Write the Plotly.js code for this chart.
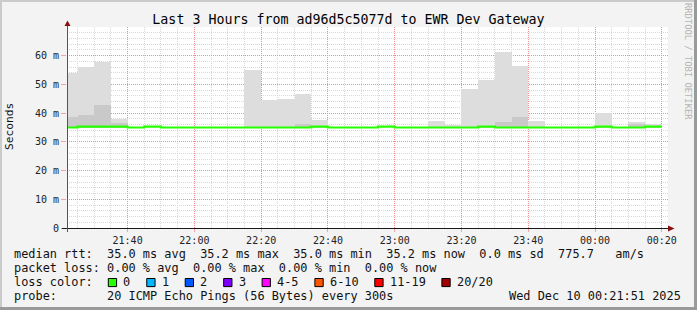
<!DOCTYPE html>
<html>
<head>
<meta charset="utf-8">
<script src="https://cdn.plot.ly/plotly-3.0.1.min.js"></script>
<style>
html,body{margin:0;padding:0;background:#f3f3f3;}
#chart{width:697px;height:310px;}
</style>
</head>
<body>
<div id="chart"></div>
<script>
// ---- data (5-minute bins, values in milliseconds) ----
const binStart = [
'2025-12-09 21:20','2025-12-09 21:25','2025-12-09 21:30','2025-12-09 21:35',
'2025-12-09 21:40','2025-12-09 21:45','2025-12-09 21:50','2025-12-09 21:55',
'2025-12-09 22:00','2025-12-09 22:05','2025-12-09 22:10','2025-12-09 22:15',
'2025-12-09 22:20','2025-12-09 22:25','2025-12-09 22:30','2025-12-09 22:35',
'2025-12-09 22:40','2025-12-09 22:45','2025-12-09 22:50','2025-12-09 22:55',
'2025-12-09 23:00','2025-12-09 23:05','2025-12-09 23:10','2025-12-09 23:15',
'2025-12-09 23:20','2025-12-09 23:25','2025-12-09 23:30','2025-12-09 23:35',
'2025-12-09 23:40','2025-12-09 23:45','2025-12-09 23:50','2025-12-09 23:55',
'2025-12-10 00:00','2025-12-10 00:05','2025-12-10 00:10','2025-12-10 00:15'];
const seriesEnd = '2025-12-10 00:20';

const medianMs = [
 35.0,35.3,35.3,35.3,
 35.0,35.3,35.0,35.0,
 35.0,35.0,35.0,35.0,
 35.0,35.0,35.0,35.3,
 35.0,35.0,35.0,35.3,
 35.0,35.0,35.0,35.0,
 35.0,35.3,35.0,35.0,
 35.0,35.0,35.0,35.0,
 35.3,35.0,35.0,35.3];

const smokeMaxMs = [
 54.0,56.1,57.9,37.9,
 null,null,null,null,
 null,null,null,55.1,
 44.6,45.0,46.8,37.5,
 null,null,null,null,
 null,null,37.3,35.7,
 48.4,51.7,61.4,56.5,
 37.3,null,null,null,
 39.9,null,36.8,36.1];

const smokeMidMs = [
 38.5,39.4,43.0,36.5,
 null,null,null,null,
 null,null,null,null,
 null,null,36.1,null,
 null,null,null,null,
 null,null,null,null,
 null,null,36.8,38.7,
 null,null,null,null,
 null,null,36.3,null];

const smokeFloorMs = 34.9;

const yTickVals = [0,10,20,30,40,50,60];
const yTickText = ['0','10 m','20 m','30 m','40 m','50 m','60 m'];

const lossLabels = ['0','1','2','3','4-5','6-10','11-19','20/20'];
const lossColors = ['#26ff00','#00b8ff','#0059ff','#7e00ff','#ff00ff','#ff5500','#ff0000','#a10000'];

const titleText = 'Last 3 Hours from ad96d5c5077d to EWR Dev Gateway';
const legendLines = [
 'median rtt:  35.0 ms avg  35.2 ms max  35.0 ms min  35.2 ms now  0.0 ms sd  775.7   am/s',
 'packet loss: 0.00 % avg  0.00 % max  0.00 % min  0.00 % now',
 'loss color:',
 'probe:       20 ICMP Echo Pings (56 Bytes) every 300s'
];
const stampText = 'Wed Dec 10 00:21:51 2025';

// ---- layout helpers ----
const W = 697, H = 310;
const M = {l:67, r:29, t:27, b:82};
const PW = W - M.l - M.r, PH = H - M.t - M.b;
const px = x => (x - M.l) / PW;
const py = y => (M.t + PH - y) / PH;
const MONO = 'DejaVu Sans Mono, monospace';
const nb = s => s.replace(/ /g, '\u00a0');

const light = {
  type:'bar', x: binStart, xperiod: 300000, xperiodalignment:'middle', width: 300000,
  base: smokeMaxMs.map(v => v === null ? null : smokeFloorMs),
  y: smokeMaxMs.map(v => v === null ? null : v - smokeFloorMs),
  marker:{color:'#dddddd', line:{width:0}}, hoverinfo:'skip', showlegend:false
};
const dark = {
  type:'bar', x: binStart, xperiod: 300000, xperiodalignment:'middle', width: 300000,
  base: smokeMidMs.map(v => v === null ? null : smokeFloorMs),
  y: smokeMidMs.map(v => v === null ? null : v - smokeFloorMs),
  marker:{color:'#c9c9c9', line:{width:0}}, hoverinfo:'skip', showlegend:false
};
const median = {
  type:'scatter', mode:'lines',
  x: binStart.concat([seriesEnd]),
  y: medianMs.concat([medianMs[medianMs.length-1]]),
  line:{color:lossColors[0], width:2.2, shape:'hv'},
  hoverinfo:'skip', showlegend:false
};

const shapes = [];
const annotations = [];

// frame
shapes.push({type:'line', xref:'paper', yref:'paper', x0:px(0), x1:px(W), y0:py(1), y1:py(1), line:{color:'#cbcbcb', width:2}});
shapes.push({type:'line', xref:'paper', yref:'paper', x0:px(1), x1:px(1), y0:py(0), y1:py(H), line:{color:'#cbcbcb', width:2}});
shapes.push({type:'line', xref:'paper', yref:'paper', x0:px(0), x1:px(W), y0:py(H-1.5), y1:py(H-1.5), line:{color:'#9a9a9a', width:3}});
shapes.push({type:'line', xref:'paper', yref:'paper', x0:px(W-1.5), x1:px(W-1.5), y0:py(0), y1:py(H), line:{color:'#9a9a9a', width:3}});

// axes with arrows
const axY = M.t + PH, axX = M.l;
shapes.push({type:'line', xref:'paper', yref:'paper', x0:px(62), x1:px(669), y0:py(axY+0.5), y1:py(axY+0.5), line:{color:'#1a1a1a', width:1}});
shapes.push({type:'line', xref:'paper', yref:'paper', x0:px(axX+0.5), x1:px(axX+0.5), y0:py(232), y1:py(25), line:{color:'#555555', width:1}});
shapes.push({type:'path', xref:'paper', yref:'paper',
  path:`M ${px(668)} ${py(axY-2.5)} L ${px(674.5)} ${py(axY+0.5)} L ${px(668)} ${py(axY+3.5)} Z`,
  fillcolor:'#8b1010', line:{width:0}});
shapes.push({type:'path', xref:'paper', yref:'paper',
  path:`M ${px(axX-2.5)} ${py(26)} L ${px(axX+0.5)} ${py(20.5)} L ${px(axX+3.5)} ${py(26)} Z`,
  fillcolor:'#8b1010', line:{width:0}});

// legend text lines
const lineY = [254.3, 268.3, 282.3, 295.8];
const textX0 = 14.3, charW = 7.154;
legendLines.forEach((t,i) => {
  annotations.push({xref:'paper', yref:'paper', x:px(textX0), y:py(lineY[i]), xanchor:'left', yanchor:'middle',
    text:nb(t), showarrow:false, borderpad:0, borderwidth:0,
    font:{family:MONO, size:11.9, color:'#111'}});
});
annotations.push({xref:'paper', yref:'paper', x:px(680.5), y:py(lineY[3]), xanchor:'right', yanchor:'middle',
  text:nb(stampText), showarrow:false, borderpad:0, borderwidth:0,
  font:{family:MONO, size:11.9, color:'#111'}});

// loss colour boxes
let cx = textX0 + 13*charW;
lossLabels.forEach((lab,i) => {
  const bx = cx + 1;
  shapes.push({type:'rect', xref:'paper', yref:'paper', x0:px(bx), x1:px(bx+8.3), y0:py(278.5), y1:py(286.6),
    fillcolor:lossColors[i], line:{color:'#000', width:1}});
  annotations.push({xref:'paper', yref:'paper', x:px(cx+16), y:py(lineY[2]), xanchor:'left', yanchor:'middle',
    text:nb(lab), showarrow:false, borderpad:0, borderwidth:0,
    font:{family:MONO, size:11.9, color:'#111'}});
  cx = cx + 16 + lab.length*charW + 15.3;
});

// y axis title
annotations.push({xref:'paper', yref:'paper', x:px(10), y:py(127), xanchor:'center', yanchor:'middle',
  text:'Seconds', textangle:-90, showarrow:false, borderpad:0, borderwidth:0,
  font:{family:MONO, size:11.2, color:'#111'}});
// watermark
annotations.push({xref:'paper', yref:'paper', x:px(688), y:py(61), xanchor:'center', yanchor:'middle',
  text:nb('RRDTOOL / TOBI OETIKER'), textangle:90, showarrow:false, borderpad:0, borderwidth:0,
  font:{family:MONO, size:8.8, color:'#b4b4b4'}});

const DOT = '1px,1px';
const layout = {
  width:W, height:H,
  margin:{l:M.l, r:M.r, t:M.t, b:M.b, pad:0},
  paper_bgcolor:'#f3f3f3', plot_bgcolor:'#ffffff',
  barmode:'overlay', bargap:0,
  title:{text:titleText, font:{family:MONO, size:13.3, color:'#000'}, x:0.5, xref:'container', xanchor:'center',
    y:1-19/H, yref:'container', yanchor:'middle'},
  xaxis:{
    type:'date', range:['2025-12-09 21:21:51','2025-12-10 00:21:51'],
    tickmode:'linear', tick0:'2025-12-09 21:40', dtick:1200000, tickformat:'%H:%M',
    showgrid:true, gridcolor:'#f09090', griddash:DOT, gridwidth:1,
    minor:{tickmode:'linear', tick0:'2025-12-09 21:40', dtick:300000, showgrid:true, gridcolor:'#d8d8d8', griddash:DOT, gridwidth:1},
    ticks:'outside', ticklen:3, tickcolor:'#f2a2a2', tickwidth:1,
    zeroline:false, showline:false, fixedrange:true,
    tickfont:{family:MONO, size:10, color:'#222'}
  },
  yaxis:{
    range:[0,70], tickmode:'array', tickvals:yTickVals, ticktext:yTickText,
    showgrid:true, gridcolor:'#f09090', griddash:DOT, gridwidth:1,
    minor:{tickmode:'linear', tick0:0, dtick:2, showgrid:true, gridcolor:'#d8d8d8', griddash:DOT, gridwidth:1},
    ticks:'outside', ticklen:5, tickcolor:'#f2a2a2', tickwidth:1,
    zeroline:false, showline:false, fixedrange:true,
    tickfont:{family:MONO, size:10, color:'#222'}
  },
  shapes:shapes,
  annotations:annotations,
  showlegend:false
};

Plotly.newPlot('chart', [light, dark, median], layout, {staticPlot:true, displayModeBar:false});
</script>
</body>
</html>
